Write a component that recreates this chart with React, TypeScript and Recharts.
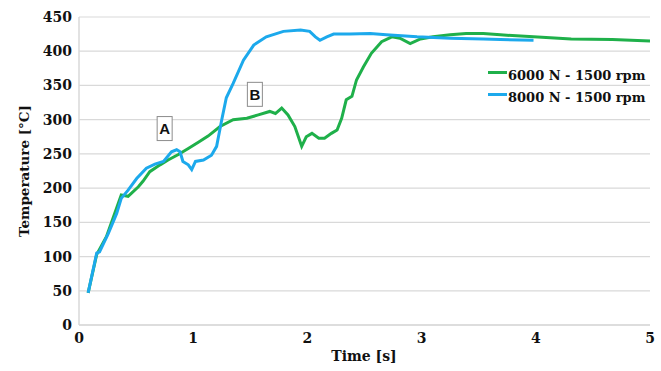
import React from "react";
import {
  LineChart,
  Line,
  XAxis,
  YAxis,
  CartesianGrid,
  Legend,
  ReferenceDot,
} from "recharts";

// 6000 N - 1500 rpm
const timeGreen = [
  0.08, 0.155, 0.24, 0.37, 0.43, 0.52, 0.56, 0.62, 0.71, 0.78, 0.87, 0.957,
  1.045, 1.13, 1.235, 1.35, 1.47, 1.57, 1.67, 1.72, 1.775, 1.83, 1.89, 1.95,
  1.99, 2.04, 2.1, 2.15, 2.21, 2.26, 2.3, 2.34, 2.39, 2.43, 2.49, 2.56, 2.65,
  2.74, 2.81, 2.9, 2.99, 3.1, 3.25, 3.39, 3.54, 3.69, 3.98, 4.31, 4.67, 5.0,
];
const tempGreen = [
  47, 103, 129, 190, 188, 202, 210, 224, 234, 241, 249, 258, 267, 276, 290,
  300, 302, 307, 312, 309, 317, 307, 290, 261, 275, 280, 273, 273, 280, 285,
  302, 329, 334, 358, 377, 397, 414, 421, 419, 411, 418, 421, 424, 426, 426,
  424, 421, 418, 417, 415,
];

// 8000 N - 1500 rpm
const timeBlue = [
  0.08, 0.155, 0.18, 0.257, 0.33, 0.37, 0.43, 0.505, 0.59, 0.665, 0.74, 0.81,
  0.855, 0.885, 0.91, 0.957, 0.987, 1.02, 1.09, 1.16, 1.205, 1.25, 1.29, 1.35,
  1.44, 1.53, 1.64, 1.79, 1.94, 2.02, 2.07, 2.11, 2.17, 2.23, 2.37, 2.55, 2.69,
  2.96, 3.25, 3.54, 3.69, 3.98,
];
const tempBlue = [
  47, 105, 107, 134, 163, 185, 197, 214, 229, 235, 239, 253, 256, 253, 239,
  234, 227, 239, 241, 248, 261, 300, 332, 353, 387, 409, 421, 429, 431, 429,
  421, 416, 421, 425, 425, 426, 424, 421, 419, 418, 417, 416,
];

const xTicks = [0, 1, 2, 3, 4, 5];
const yTicks = [0, 50, 100, 150, 200, 250, 300, 350, 400, 450];

const markerNames = ["A", "B"];
const markerTime = [0.75, 1.54];
const markerTemp = [287, 337];

const greenData = timeGreen.map((t, i) => ({ t, v: tempGreen[i] }));
const blueData = timeBlue.map((t, i) => ({ t, v: tempBlue[i] }));

const FONT = "'DejaVu Serif', serif";
const GRID = "#d9d9d9";

function MarkerBox(props: any) {
  const { cx, cy, name } = props;
  return (
    <g>
      <rect
        x={cx - 7.5}
        y={cy - 12}
        width={15}
        height={24}
        fill="#fff"
        stroke="#8c8c8c"
        strokeWidth={1}
      />
      <text
        x={cx}
        y={cy + 5.5}
        textAnchor="middle"
        fontFamily="'Liberation Sans', Arial, sans-serif"
        fontWeight="bold"
        fontSize={15}
        fill="#111"
      >
        {name}
      </text>
    </g>
  );
}

function LegendBox({ payload }: any) {
  return (
    <div style={{ fontFamily: FONT, fontWeight: "bold", fontSize: 13 }}>
      {(payload || []).map((p: any) => (
        <div
          key={p.value}
          style={{ display: "flex", alignItems: "center", height: 22 }}
        >
          <span
            style={{
              display: "inline-block",
              width: 19,
              height: 3,
              background: p.color,
              marginTop: -6,
              marginRight: 1,
            }}
          />
          <span style={{ color: "#111" }}>{p.value}</span>
        </div>
      ))}
    </div>
  );
}

export default function App() {
  return (
    <div style={{ position: "absolute", left: 0, top: 0, width: 661, height: 371, background: "#fff" }}>
      <LineChart
        width={661}
        height={371}
        margin={{ top: 17, right: 11, left: 19, bottom: 16 }}
      >
        <CartesianGrid vertical={false} stroke={GRID} strokeWidth={1.2} />
        <XAxis
          dataKey="t"
          type="number"
          domain={[0, 5]}
          ticks={xTicks}
          allowDuplicatedCategory={false}
          height={30}
          stroke={GRID}
          strokeWidth={1.5}
          tickLine={false}
          tickSize={0}
          tickMargin={8}
          tick={{ fill: "#111", fontFamily: FONT, fontWeight: "bold", fontSize: 14 }}
          label={{
            content: () => (
              <text
                x={364}
                y={361}
                textAnchor="middle"
                fontFamily={FONT}
                fontWeight="bold"
                fontSize={14}
                fill="#111"
              >
                Time [s]
              </text>
            ),
          }}
        />
        <YAxis
          type="number"
          domain={[0, 450]}
          ticks={yTicks}
          width={60}
          stroke={GRID}
          strokeWidth={1.5}
          tickLine={false}
          tickSize={0}
          tickMargin={7}
          tick={{ fill: "#111", fontFamily: FONT, fontWeight: "bold", fontSize: 14 }}
          label={{
            content: () => (
              <text
                x={29}
                y={171}
                transform="rotate(-90, 29, 171)"
                textAnchor="middle"
                fontFamily={FONT}
                fontWeight="bold"
                fontSize={13.5}
                fill="#111"
              >
                Temperature [°C]
              </text>
            ),
          }}
        />
        <Legend
          layout="horizontal"
          verticalAlign="middle"
          wrapperStyle={{ left: 488, top: 64, width: 173 }}
          content={<LegendBox />}
        />
        <Line
          data={greenData}
          dataKey="v"
          name="6000 N - 1500 rpm"
          type="linear"
          stroke="#1fb04a"
          strokeWidth={3}
          dot={false}
          isAnimationActive={false}
        />
        <Line
          data={blueData}
          dataKey="v"
          name="8000 N - 1500 rpm"
          type="linear"
          stroke="#1ca9ec"
          strokeWidth={3}
          dot={false}
          isAnimationActive={false}
        />
        {markerNames.map((n, i) => (
          <ReferenceDot
            key={n}
            x={markerTime[i]}
            y={markerTemp[i]}
            r={0}
            shape={(p: any) => <MarkerBox {...p} name={n} />}
          />
        ))}
      </LineChart>
    </div>
  );
}
